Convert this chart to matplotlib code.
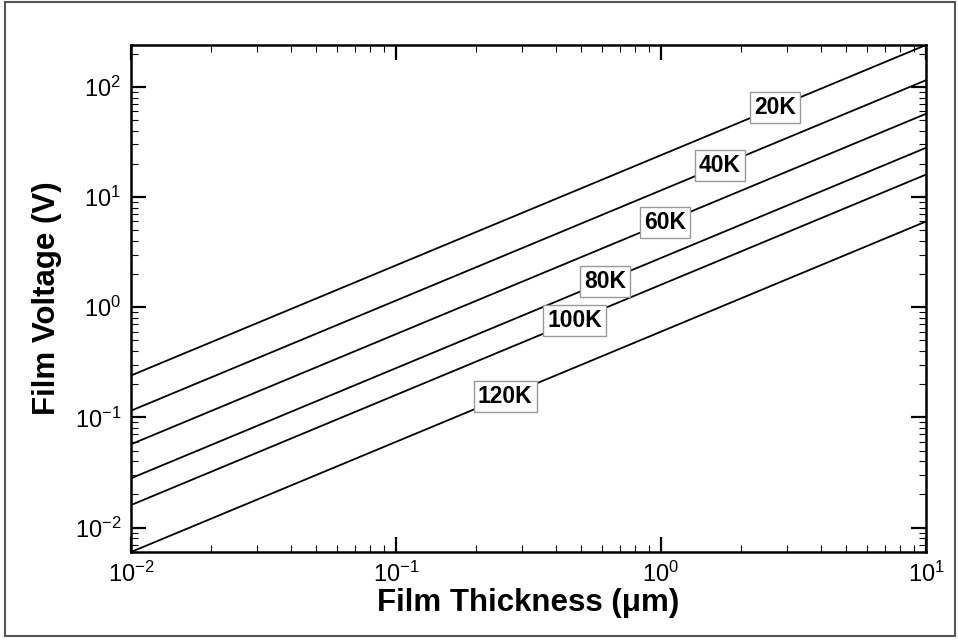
import numpy as np
import matplotlib
matplotlib.use("Agg")
import matplotlib.pyplot as plt
from matplotlib.patches import Rectangle

plt.rcParams['font.family'] = ['Liberation Sans', 'DejaVu Sans']
plt.rcParams['mathtext.fontset'] = 'custom'
plt.rcParams['mathtext.rm'] = 'Liberation Sans'
plt.rcParams['mathtext.it'] = 'Liberation Sans:italic'
plt.rcParams['mathtext.bf'] = 'Liberation Sans:bold'

# Data: V = coefficient * thickness (slope 1 on log-log)
labels = ["20K", "40K", "60K", "80K", "100K", "120K"]
coeffs = [24.0, 11.5, 5.7, 2.8, 1.6, 0.6]       # V per micron
label_x = [2.69, 1.67, 1.035, 0.615, 0.473, 0.258]  # where labels sit
thickness = [0.01, 10.0]

fig = plt.figure(figsize=(9.58, 6.4), dpi=100)
ax = fig.add_axes([131/958, 1-552/640, (926-131)/958, (552-45)/640])

for lab, c, lx in zip(labels, coeffs, label_x):
    xs = np.array(thickness)
    ax.plot(xs, c*xs, color='black', lw=1.3, zorder=2)
    ax.text(lx, c*lx, lab, ha='center', va='center', fontsize=16.5, fontweight='bold',
            zorder=3, bbox=dict(boxstyle='square,pad=0.18', fc='white', ec='#999999', lw=1))

ax.set_xscale('log')
ax.set_yscale('log')
ax.set_xlim(1e-2, 1e1)
ax.set_ylim(6e-3, 240)

for s in ax.spines.values():
    s.set_linewidth(1.8)

ax.tick_params(which='both', direction='in', top=True, right=True)
ax.tick_params(which='major', length=11, width=1.6, labelsize=17, pad=7)
ax.tick_params(which='minor', length=5, width=0.8)

ax.set_xlabel("Film Thickness (\u03bcm)", fontsize=22.5, fontweight='bold', labelpad=1)
ax.set_ylabel("Film Voltage (V)", fontsize=22.5, fontweight='bold', labelpad=9)

fig.patches.append(Rectangle((5/958, 4/640), 950/958, 634/640, transform=fig.transFigure,
                             fill=False, ec='#555555', lw=1.5))

fig.savefig("out.png", dpi=100)
